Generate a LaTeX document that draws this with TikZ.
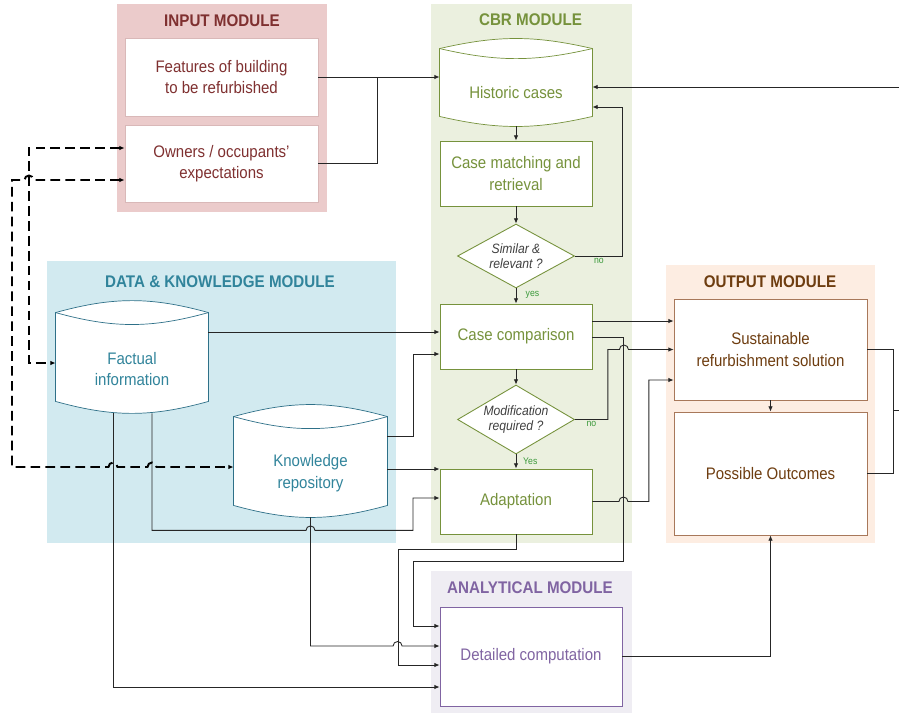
\documentclass[tikz,border=0pt]{standalone}
\usepackage{fontspec}
\setmainfont{Liberation Sans}[FakeStretch=0.9]
\usepackage{tikz}
\usetikzlibrary{positioning, arrows.meta, calc, shapes.geometric, backgrounds}
\definecolor{inputbg}{HTML}{EBCBCB}
\definecolor{inputtxt}{HTML}{7F3030}
\definecolor{inputline}{HTML}{D9B8B8}
\definecolor{cbrbg}{HTML}{EBF0DF}
\definecolor{cbrtxt}{HTML}{76923C}
\definecolor{dkbg}{HTML}{D2EAF0}
\definecolor{dktxt}{HTML}{31849B}
\definecolor{dkline}{HTML}{2E7088}
\definecolor{outbg}{HTML}{FDEDE2}
\definecolor{outtxt}{HTML}{6E3D10}
\definecolor{outborder}{HTML}{A8785A}
\definecolor{anbg}{HTML}{EFEDF3}
\definecolor{antxt}{HTML}{8064A2}
\definecolor{yesgreen}{HTML}{3C9A3C}
\definecolor{wire}{HTML}{262626}

\begin{document}
\begin{tikzpicture}[>={Latex[length=3pt,width=2.6pt]}, x=0.02cm, y=-0.02cm, line width=0.5pt,
  every node/.style={font=\fontsize{9.5}{12.3}\selectfont}]
\tikzset{
  inbox/.style={draw=inputline, fill=white, text=inputtxt, minimum width=3.86cm, minimum height=1.56cm, inner sep=1pt, align=center},
  cbrbox/.style={draw=cbrtxt, fill=white, text=cbrtxt, minimum width=3.04cm, minimum height=1.3cm, inner sep=1pt, align=center},
  store/.style={text=#1, minimum width=3.04cm, inner sep=1pt, align=center},
  decision/.style={diamond, aspect=1.83, draw=cbrtxt, fill=white, text=black!75, inner sep=0pt, minimum width=2.34cm, align=center, font=\itshape\fontsize{7.7}{8.2}\selectfont},
  outbox/.style={draw=outborder, fill=white, text=outtxt, minimum width=3.86cm, inner sep=1pt, align=center},
  anbox/.style={draw=antxt, fill=white, text=antxt, minimum width=3.64cm, minimum height=1.98cm, align=center},
  modtitle/.style={font=\bfseries\fontsize{9.6}{11}\selectfont},
  yesno/.style={font=\fontsize{5.5}{6}\selectfont, text=yesgreen, inner sep=1pt},
  flow/.style={draw=wire, ->},
  wireline/.style={draw=wire},
  dashflow/.style={draw=black, line width=1.1pt, dash pattern=on 5.5pt off 3pt, <->},
}
\useasboundingbox (0,0) rectangle (899,713);
% input module
\node[inbox] (feat) at (221.5,77) {Features of building\\to be refurbished};
\node[inbox, minimum height=1.54cm] (own) at (221.5,163.5) {Owners / occupants'\\expectations};
% CBR module
\node[store=cbrtxt, minimum height=1.34cm] (hist) at (516,92.5) {Historic cases};
\node[cbrbox] (match) at (516,173.5) {Case matching and\\retrieval};
\node[decision, minimum height=1.28cm] (sim) at (516,256) {Similar \&\\relevant ?};
\node[cbrbox] (cmp) at (516,336.5) {Case comparison};
\node[decision, minimum height=1.38cm] (mod) at (516,419.5) {Modification\\required ?};
\node[cbrbox] (adapt) at (516,501.5) {Adaptation};
% data & knowledge module
\node[store=dktxt, minimum height=1.76cm] (fact) at (132,369) {Factual\\information};
\node[store=dktxt, minimum height=1.76cm, minimum width=3.06cm] (know) at (310.5,473) {Knowledge\\repository};
% output module
\node[outbox, minimum height=2.02cm] (sus) at (770.5,349.5) {Sustainable\\refurbishment solution};
\node[outbox, minimum height=2.46cm] (pos) at (770.5,473.5) {Possible Outcomes};
% analytical module
\node[anbox] (det) at (531,656.5) {Detailed computation};
% module titles
\node[modtitle, text=inputtxt] (tin) at (222,21) {INPUT MODULE};
\node[modtitle, text=cbrtxt] (tcbr) at (530.5,20) {CBR MODULE};
\node[modtitle, text=dktxt] (tdk) at (220,282) {DATA \& KNOWLEDGE MODULE};
\node[modtitle, text=outtxt] (tout) at (770,282) {OUTPUT MODULE};
\node[modtitle, text=antxt] (tan) at (530,588) {ANALYTICAL MODULE};
% panels and storage shapes
\begin{scope}[on background layer]
\fill[inputbg] (117,4) rectangle (327,212);
\fill[cbrbg] (431,4) rectangle (632,543);
\fill[dkbg] (47,261) rectangle (396,543);
\fill[outbg] (666,265) rectangle (875,543);
\fill[anbg] (431,571) rectangle (632,713);
\foreach \n/\c/\s/\b in {hist/cbrtxt/10/13, fact/dkline/12/15.5, know/dkline/12/15.5} {
  \draw[\c, fill=white] ($(\n.north west)+(0,-\s)$) to[bend left=\b] ($(\n.north east)+(0,-\s)$) -- ($(\n.south east)+(0,-\s)$) to[bend left=\b] ($(\n.south west)+(0,-\s)$) -- cycle;
  \draw[\c] ($(\n.north west)+(0,-\s)$) to[bend right=\b] ($(\n.north east)+(0,-\s)$);
}
\end{scope}
% input to CBR
\coordinate (jin) at (377,77);
\draw[flow] (feat.east) -- (feat.east -| hist.west);
\draw[wireline] (own.east) -| (jin);
\coordinate (edgetop) at (899,87);
\draw[flow] (edgetop) -- (edgetop -| hist.east);
% CBR flow
\draw[flow] (hist.south) -- (match.north);
\draw[flow] (match.south) -- (sim.north);
\draw[flow] (sim.south) -- (cmp.north) node[yesno, pos=0.45, right=1.5mm] {yes};
\draw[flow] (sim.east) -- ++(48,0) node[yesno, midway, below] {no} |- ($(hist.east)+(0,14.5)$);
\draw[flow] (cmp.south) -- (mod.north);
\draw[flow] (mod.south) -- (adapt.north) node[yesno, pos=0.45, right=1mm] {Yes};
% data & knowledge into CBR
\draw[flow] ($(fact.east)+(0,-37)$) -- ($(cmp.west)+(0,-4.5)$);
\draw[flow] ($(know.east)+(0,-37)$) -- ++(26,0) |- ($(cmp.west)+(0,17.5)$);
\draw[flow] ($(know.east)+(0,-4)$) -- ($(adapt.west)+(0,-32.5)$);
\draw[flow] ($(fact.south)+(20,0)$) -- ++(0,117) -- ($(know.south)+(-4.5,13)$) arc[start angle=180, end angle=0, radius=0.9mm] -- ++(98,0) |- ($(adapt.west)+(0,-3.5)$);
% into the analytical module
\draw[flow] ($(fact.south)+(-19,0)$) |- ($(det.west)+(0,30.5)$);
\draw[flow] (know.south) |- ($(det.west)+(-46.5,-10.5)$) arc[start angle=180, end angle=0, radius=0.9mm] -- ($(det.west)+(0,-10.5)$);
\draw[flow] ($(cmp.east)+(0,0.5)$) -- ++(31,0) -- ++(0,224) -- ++(-210,0) |- ($(det.west)+(0,-30.5)$);
\draw[flow] (adapt.south) -- ++(0,15) -- ++(-118,0) |- ($(det.west)+(0,8.5)$);
% CBR into output
\draw[flow] ($(cmp.east)+(0,-15.5)$) -- ($(sus.west)+(0,-28.5)$);
\draw[flow] (mod.east) -- ++(33,0) node[yesno, midway, below] {no} -- ++(0,-70) -- ++(11.5,0) arc[start angle=180, end angle=0, radius=0.9mm] -- (sus.west);
\draw[flow] (adapt.east) -- ++(26.5,0) arc[start angle=180, end angle=0, radius=0.9mm] -- ++(21,0) |- ($(sus.west)+(0,30.5)$);
% output
\draw[flow] (sus.south) -- (pos.north);
\draw[flow] (det.east) -| (pos.south);
\coordinate (jout) at (893,410);
\coordinate (edgemid) at (899,410);
\draw[wireline] (sus.east) -| (jout) |- (pos.east);
\draw[wireline] (jout) -- (edgemid);
% dashed links from the owners
\draw[dashflow] ($(own.west)+(0,16.5)$) -- (33.5,180) arc[start angle=0, end angle=180, radius=0.9mm] -- (12,180) -- (12,467) -- (108.5,467) arc[start angle=180, end angle=0, radius=0.9mm] -- (147.5,467) arc[start angle=180, end angle=0, radius=0.9mm] -- ($(know.west)+(0,-6)$);
\draw[dashflow] ($(own.west)+(0,-15.5)$) -| ($(fact.west)+(-27,-6)$) -- ($(fact.west)+(0,-6)$);
\end{tikzpicture}
\end{document}
